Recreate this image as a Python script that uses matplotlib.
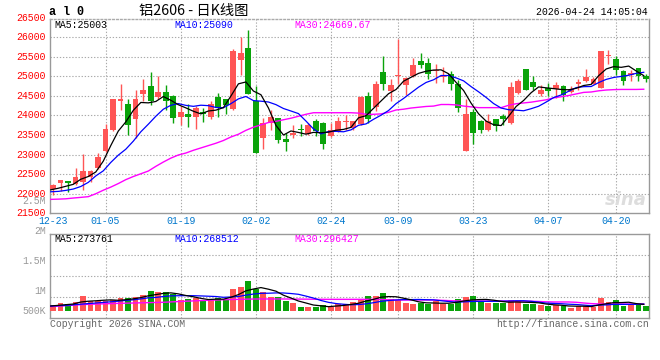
"""
al0 daily K-line (铝2606) with MA5 / MA10 / MA30 and volume panel
values read off the sina finance chart, 2025-12-23 .. 2026-04-24
"""

import numpy as np
import matplotlib

matplotlib.use("Agg")
from matplotlib import pyplot as plt

plt.rcParams["font.family"] = ["Liberation Mono", "Noto Sans CJK SC", "DejaVu Sans"]

# ---- price data (one entry per trading day) ----
opens = [
    22110, 22280, 22320, 22240, 22290, 22440, 22650, 23080, 23620, 24370,
    24300, 23900, 24540, 24760, 24480, 24610, 24490, 23960, 24030, 23960,
    24090, 23960, 24480, 24410, 24170, 25420, 25730, 24380, 23420, 23820,
    23930, 23410, 23500, 23660, 23520, 23850, 23820, 23480, 23600, 23840,
    23690, 23790, 24510, 24210, 25120, 24620, 25000, 24770, 25000, 25400,
    25350, 25130, 24980, 25070, 24810, 23090, 24100, 23870, 23640, 23900,
    23980, 23800, 24570, 25200, 24850, 24560, 24700, 24680, 24760, 24590,
    24810, 24870, 24810, 24700, 25520, 25440, 25140, 25040, 25210, 25020,
]
highs = [
    22250, 22360, 22330, 22650, 23020, 22600, 23040, 23790, 24430, 24810,
    24430, 24660, 24920, 25100, 25020, 24790, 24530, 24250, 24300, 24240,
    24200, 24380, 24580, 24430, 25700, 26000, 26190, 24750, 23940, 24150,
    23930, 23560, 23750, 23770, 23800, 23900, 23830, 23800, 23960, 24000,
    23870, 24490, 24610, 24890, 25530, 24920, 25950, 24980, 25480, 25590,
    25480, 25320, 25240, 25130, 24900, 24430, 24170, 23880, 24050, 23920,
    24030, 24850, 24920, 25200, 25020, 24790, 24830, 24850, 24770, 24750,
    24920, 25190, 24980, 25660, 25680, 25530, 25150, 25150, 25220, 25060,
]
lows = [
    21980, 22060, 22050, 22230, 22100, 22290, 22640, 23070, 23610, 24140,
    23500, 23420, 24360, 24260, 24420, 24140, 23800, 23750, 23700, 23650,
    23840, 23900, 23960, 24030, 24150, 25040, 24540, 23040, 23140, 23640,
    23290, 23090, 23420, 23480, 23510, 23480, 23150, 23460, 23590, 23640,
    23640, 23750, 23810, 24110, 24640, 24360, 24810, 24520, 24980, 25210,
    24940, 24830, 24860, 24640, 24090, 23090, 23270, 23560, 23600, 23600,
    23750, 23790, 24560, 24640, 24660, 24490, 24490, 24450, 24360, 24580,
    24640, 24850, 24800, 24700, 25310, 25040, 24770, 24870, 24870, 24860,
]
closes = [
    22230, 22350, 22270, 22420, 22580, 22580, 22930, 23660, 24410, 24430,
    23750, 24410, 24660, 24360, 24610, 24380, 23930, 24090, 23960, 24180,
    24040, 24300, 24200, 24280, 25660, 25600, 24540, 23040, 23810, 23970,
    23370, 23310, 23560, 23620, 23750, 23600, 23260, 23640, 23860, 23860,
    23860, 24480, 23910, 24800, 24800, 24790, 25020, 24970, 25300, 25300,
    25060, 25170, 25000, 24800, 24190, 24030, 23550, 23640, 23870, 23730,
    23920, 24740, 24890, 24640, 24720, 24660, 24620, 24790, 24530, 24680,
    24850, 24980, 24930, 25650, 25530, 25150, 24890, 25090, 25020, 24940,
]
ma5 = [
    22100, 22140, 22190, 22240, 22370, 22440, 22556, 22834, 23232, 23602,
    23836, 24132, 24332, 24322, 24358, 24484, 24388, 24274, 24194, 24108,
    24040, 24114, 24136, 24200, 24496, 24808, 24856, 24624, 24530, 24192,
    23746, 23500, 23604, 23566, 23522, 23568, 23558, 23574, 23622, 23644,
    23696, 23940, 23994, 24182, 24370, 24556, 24664, 24876, 24976, 25076,
    25130, 25160, 25166, 25066, 24844, 24638, 24314, 24042, 23856, 23764,
    23742, 23980, 24230, 24384, 24582, 24730, 24706, 24686, 24664, 24656,
    24694, 24766, 24794, 25018, 25188, 25248, 25230, 25262, 25136, 25018,
]
ma10 = [
    22050, 22060, 22085, 22120, 22185, 22290, 22455, 22585, 22800, 22986,
    23138, 23344, 23583, 23777, 23980, 24160, 24260, 24303, 24258, 24233,
    24262, 24251, 24205, 24197, 24302, 24424, 24485, 24380, 24365, 24344,
    24277, 24178, 24114, 24048, 23857, 23657, 23529, 23589, 23594, 23583,
    23632, 23749, 23784, 23902, 24007, 24126, 24302, 24435, 24579, 24723,
    24843, 24912, 25021, 25021, 24960, 24884, 24737, 24604, 24461, 24304,
    24190, 24147, 24136, 24120, 24173, 24236, 24343, 24458, 24524, 24619,
    24712, 24736, 24740, 24841, 24922, 24971, 24998, 25028, 25077, 25103,
]
ma30 = [
    21856, 21862, 21870, 21890, 21907, 21925, 22000, 22090, 22170, 22260,
    22360, 22440, 22510, 22580, 22700, 22810, 22910, 22990, 23040, 23110,
    23170, 23230, 23290, 23360, 23450, 23520, 23620, 23700, 23760, 23820,
    23850, 23890, 23930, 23980, 24030, 24070, 24070, 24070, 24070, 24070,
    24070, 24060, 24030, 24030, 24040, 24080, 24140, 24160, 24190, 24210,
    24230, 24240, 24280, 24280, 24270, 24240, 24220, 24200, 24200, 24200,
    24200, 24260, 24300, 24320, 24340, 24370, 24400, 24450, 24480, 24510,
    24550, 24590, 24600, 24630, 24650, 24660, 24665, 24665, 24665, 24670,
]

# ---- volume panel (in the units of the panel's own axis labels, thousands) ----
volumes = [
    761, 800, 783, 817, 917, 833, 833, 828, 850, 883,
    883, 900, 933, 1000, 983, 983, 944, 850, 867, 878,
    844, 850, 883, 867, 1033, 1067, 1167, 1033, 983, 900,
    900, 833, 800, 733, 733, 733, 767, 728, 783, 783,
    817, 867, 917, 917, 967, 867, 850, 800, 783, 800,
    783, 833, 783, 783, 867, 900, 917, 817, 800, 800,
    800, 850, 833, 783, 783, 767, 750, 767, 750, 717,
    750, 750, 733, 883, 817, 850, 750, 767, 767, 750,
]
vol_ma5 = [
    750, 761, 772, 783, 816, 830, 837, 846, 852, 845,
    855, 869, 890, 920, 940, 960, 969, 952, 925, 904,
    877, 858, 864, 864, 895, 940, 1003, 1033, 1057, 1030,
    997, 930, 883, 833, 800, 766, 753, 739, 749, 759,
    776, 796, 833, 860, 897, 907, 904, 880, 853, 820,
    803, 800, 796, 796, 810, 833, 850, 857, 860, 847,
    827, 813, 817, 813, 810, 803, 783, 770, 763, 750,
    747, 747, 740, 767, 787, 807, 807, 813, 790, 777,
]
vol_ma10 = [
    750, 755, 760, 770, 780, 790, 800, 810, 820, 830,
    843, 853, 868, 886, 893, 908, 919, 921, 923, 922,
    918, 913, 908, 895, 900, 908, 931, 949, 961, 963,
    968, 967, 958, 945, 915, 882, 842, 811, 791, 779,
    771, 774, 786, 805, 828, 841, 850, 857, 857, 859,
    855, 852, 838, 825, 815, 818, 825, 827, 828, 828,
    830, 832, 837, 837, 828, 815, 798, 793, 788, 780,
    775, 765, 755, 765, 768, 777, 777, 777, 778, 782,
]
vol_ma30 = [
    740, 748, 756, 764, 772, 778, 782, 786, 790, 794,
    797, 800, 803, 806, 809, 812, 818, 824, 830, 835,
    840, 845, 850, 855, 858, 861, 864, 866, 867, 867,
    867, 867, 866, 865, 864, 863, 862, 861, 861, 861,
    861, 861, 861, 861, 858, 853, 850, 850, 850, 850,
    850, 850, 845, 840, 835, 833, 833, 833, 833, 833,
    833, 833, 833, 833, 830, 825, 820, 817, 817, 817,
    812, 800, 790, 785, 783, 783, 783, 783, 783, 783,
]
VOL_BASE = 667  # bars start here on the volume axis

# ---- axis labels ----
tick_idx = [0, 7, 17, 27, 37, 46, 56, 66, 75]
tick_labels = ["12-23", "01-05", "01-19", "02-02", "02-24", "03-09", "03-23", "04-07", "04-20"]
price_levels = [21500, 22000, 22500, 23000, 23500, 24000, 24500, 25000, 25500, 26000, 26500]
vol_levels = [2500, 2000, 1500, 1000]
vol_level_labels = ["2.5M", "2M", "1.5M", "1M"]

RED = "#ff5555"
GREEN = "#0aa30a"
GRID = "#aaaaaa"
FRAME = "#999999"
DATE_BLUE = "#0077cc"
LABEL_GRAY = "#999999"
FS = 7.1

W, H = 660, 360


def fx(x):
    return x / W


def fy(y):
    return 1 - y / H


fig = plt.figure(figsize=(W / 100, H / 100), dpi=100)
ax = fig.add_axes([fx(50), fy(213.3), 599 / W, 194.3 / H])
axv = fig.add_axes([fx(50), fy(318), 599 / W, 84 / H])

x = np.arange(len(closes))
o = np.array(opens)
c = np.array(closes)
cols = np.where(c >= o, RED, GREEN)
XLIM = (-0.4, len(x) - 0.6)
LINE_SHIFT = -0.3  # MA vertices sit on the left half of each candle

# candles
ax.vlines(x, lows, highs, colors=cols, lw=1.0, zorder=3)
ax.bar(x, np.maximum(np.abs(c - o), 25), bottom=np.minimum(o, c), width=0.78,
       color=cols, linewidth=0, zorder=3)
ax.plot(x + LINE_SHIFT, ma30, color="#ff00ff", lw=1.0, zorder=4)
ax.plot(x + LINE_SHIFT, ma10, color="#0000ff", lw=0.9, zorder=4)
ax.plot(x + LINE_SHIFT, ma5, color="#000000", lw=0.9, zorder=4)

ax.set_xlim(*XLIM)
ax.set_ylim(21500, 26465)

# volume bars
v = np.array(volumes) * 1000
axv.bar(x, v - VOL_BASE * 1000, bottom=VOL_BASE * 1000, width=0.78, color=cols,
        linewidth=0, zorder=3)
axv.plot(x + LINE_SHIFT, np.array(vol_ma30) * 1000, color="#ff00ff", lw=1.0, zorder=4)
axv.plot(x + LINE_SHIFT, np.array(vol_ma10) * 1000, color="#0000ff", lw=0.9, zorder=4)
axv.plot(x + LINE_SHIFT, np.array(vol_ma5) * 1000, color="#000000", lw=0.9, zorder=4)
axv.set_xlim(*XLIM)
axv.set_ylim(550e3, 1950e3)

dots = (0, (1.2, 1.6))
for a in (ax, axv):
    a.set_xticks([])
    a.set_yticks([])
    for s in a.spines.values():
        s.set_color(FRAME)
        s.set_linewidth(1.0)
    for t in tick_idx[1:]:
        a.axvline(t, color=GRID, lw=0.8, ls=dots, zorder=1)
ax.spines["top"].set_linestyle(dots)
ax.spines["top"].set_color(GRID)

for p in price_levels[1:-1]:
    ax.axhline(p, color=GRID, lw=0.8, ls=dots, zorder=1)
for frac in (0.25, 0.5, 0.75):
    axv.axhline(axv.get_ylim()[0] + frac * np.diff(axv.get_ylim())[0],
                color=GRID, lw=0.8, ls=dots, zorder=1)

# price labels (red, left of the frame)
for p in price_levels:
    ax.text(-0.007, p, str(p), transform=ax.get_yaxis_transform(), ha="right",
            va="center", color="#ff0000", fontsize=FS, clip_on=False)

# volume labels (gray), the top ones spill above the panel like the original
for val, lab in zip(vol_levels, vol_level_labels):
    axv.text(-0.007, val * 1000, lab, transform=axv.get_yaxis_transform(), ha="right",
             va="center", color=LABEL_GRAY, fontsize=FS, clip_on=False)
axv.text(-0.007, VOL_BASE * 1000, "500K", transform=axv.get_yaxis_transform(),
         ha="right", va="center", color=LABEL_GRAY, fontsize=FS, clip_on=False)

# dates under the price panel
for t, lab in zip(tick_idx, tick_labels):
    ax.text(t, -0.015, lab, transform=ax.get_xaxis_transform(), ha="center", va="top",
            color=DATE_BLUE, fontsize=FS, clip_on=False)

# header
fig.text(fx(49), fy(12), "a l 0", fontsize=8.5, fontweight="bold", va="center",
         family=["Liberation Mono"])
fig.text(fx(194), fy(11.5), "铝2606 - 日K线图", fontsize=10.3, ha="center", va="center",
         family=["Noto Sans CJK SC", "DejaVu Sans"])
fig.text(fx(648), fy(12), "2026-04-24 14:05:04", fontsize=FS, ha="right", va="center")

fig.text(fx(54), fy(24.5), "MA5:25003", fontsize=FS, va="center", color="#000000")
fig.text(fx(174), fy(24.5), "MA10:25090", fontsize=FS, va="center", color="#0000ff")
fig.text(fx(294), fy(24.5), "MA30:24669.67", fontsize=FS, va="center", color="#ff00ff")

fig.text(fx(54), fy(238.5), "MA5:273761", fontsize=FS, va="center", color="#000000")
fig.text(fx(174), fy(238.5), "MA10:268512", fontsize=FS, va="center", color="#0000ff")
fig.text(fx(294), fy(238.5), "MA30:296427", fontsize=FS, va="center", color="#ff00ff")

# footer + watermark
fig.text(fx(50), fy(324), "Copyright 2026 SINA.COM", fontsize=FS, va="center",
         color="#666666")
fig.text(fx(649), fy(324), "http://finance.sina.com.cn", fontsize=FS, ha="right",
         va="center", color="#666666")
fig.text(fx(647), fy(200), "sina", fontsize=13, ha="right", va="center",
         fontstyle="italic", fontweight="bold", color="#dddddd",
         family=["DejaVu Sans"], zorder=0)

fig.savefig("out.png", dpi=100)
